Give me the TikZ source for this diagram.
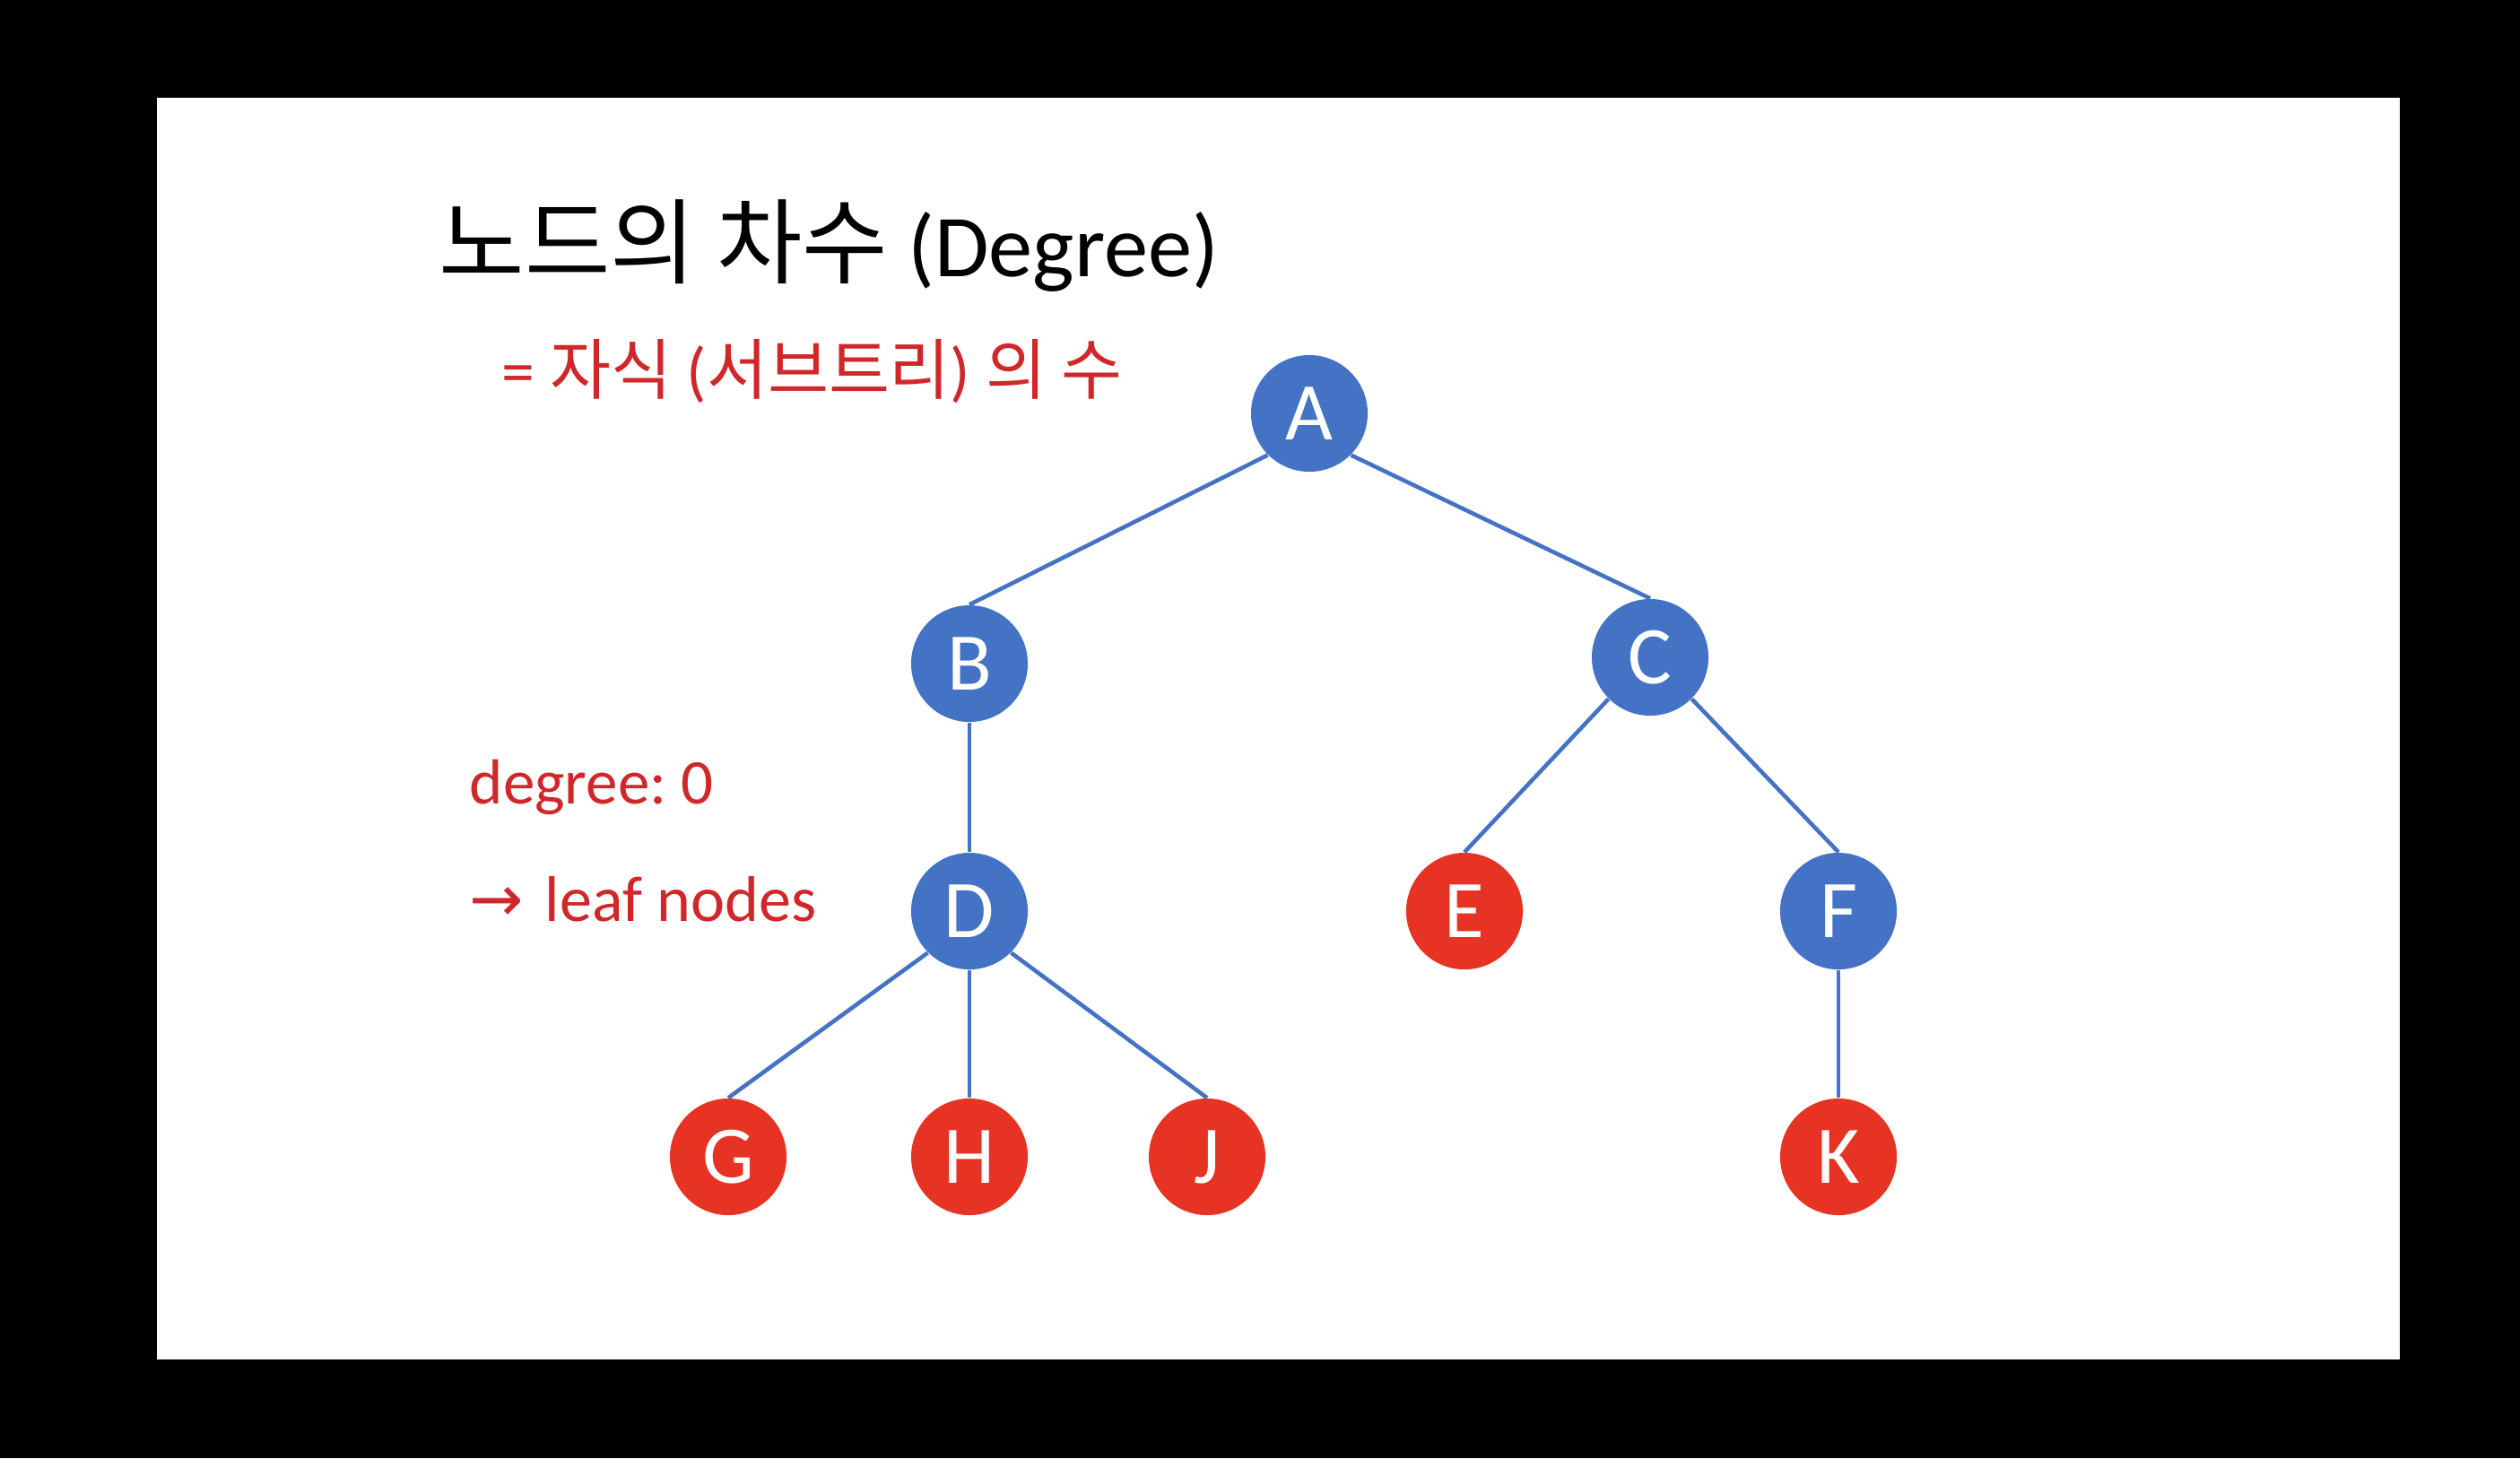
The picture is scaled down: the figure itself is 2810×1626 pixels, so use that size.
\documentclass[tikz,border=0pt]{standalone}
\usepackage{fontspec}
\setmainfont{Carlito}
\newfontfamily\cjk{Noto Sans CJK KR}
\newfontfamily\arrowfont{DejaVu Sans}
\definecolor{nodeblue}{HTML}{4472C4}
\definecolor{leafred}{HTML}{E63323}
\definecolor{textred}{HTML}{D0282A}

\begin{document}
\begin{tikzpicture}[x=0.01cm, y=-0.01cm,
		inner/.style={circle, fill=nodeblue, text=white, minimum size=1.3cm, inner sep=0pt, font=\fontsize{26}{30}\selectfont},
		leaf/.style={inner, fill=leafred},
		edge/.style={draw=nodeblue, line width=1.3pt},
		label/.style={anchor=base west, inner sep=0pt}]
		% slide frame
		\fill[black] (0,0) rectangle (2810,1626);
		\fill[white] (175,109) rectangle (2676,1516);

		% texts
		\node (title) [label, font=\fontsize{28}{34}\selectfont] at (489,308) {{\cjk\fontsize{29.5}{34}\selectfont 노드의 차수} (Degree)};
		\node (sub) [label, text=textred, font=\fontsize{21}{25}\selectfont] at (559,439) {= {\cjk 자식} ({\cjk 서브트리}) {\cjk 의 수}};
		\node (deg) [label, text=textred, font=\fontsize{20.2}{24}\selectfont] at (523,896) {degree:\hspace{0.22em}0};
		\node (leafs) [label, text=textred, font=\fontsize{20.5}{24}\selectfont] at (523,1027) {{\arrowfont →}\hspace{0.1em} leaf nodes};

		% tree
		\node (A) [inner] at (1460,461) {A};
		\node (B) [inner] at (1081,740) {B};
		\node (C) [inner] at (1840,733) {C};
		\node (D) [inner] at (1081,1016) {D};
		\node (E) [leaf] at (1633,1016) {E};
		\node (F) [inner] at (2050,1016) {F};
		\node (G) [leaf] at (812,1290) {G};
		\node (H) [leaf] at (1081,1290) {H};
		\node (J) [leaf] at (1346,1290) {J};
		\node (K) [leaf] at (2050,1290) {K};

		\draw[edge] (A.south west) -- (B.north);
		\draw[edge] (A.south east) -- (C.north);
		\draw[edge] (B.south) -- (D.north);
		\draw[edge] (C.south west) -- (E.north);
		\draw[edge] (C.south east) -- (F.north);
		\draw[edge] (D.south west) -- (G.north);
		\draw[edge] (D.south) -- (H.north);
		\draw[edge] (D.south east) -- (J.north);
		\draw[edge] (F.south) -- (K.north);
	\end{tikzpicture}
\end{document}
